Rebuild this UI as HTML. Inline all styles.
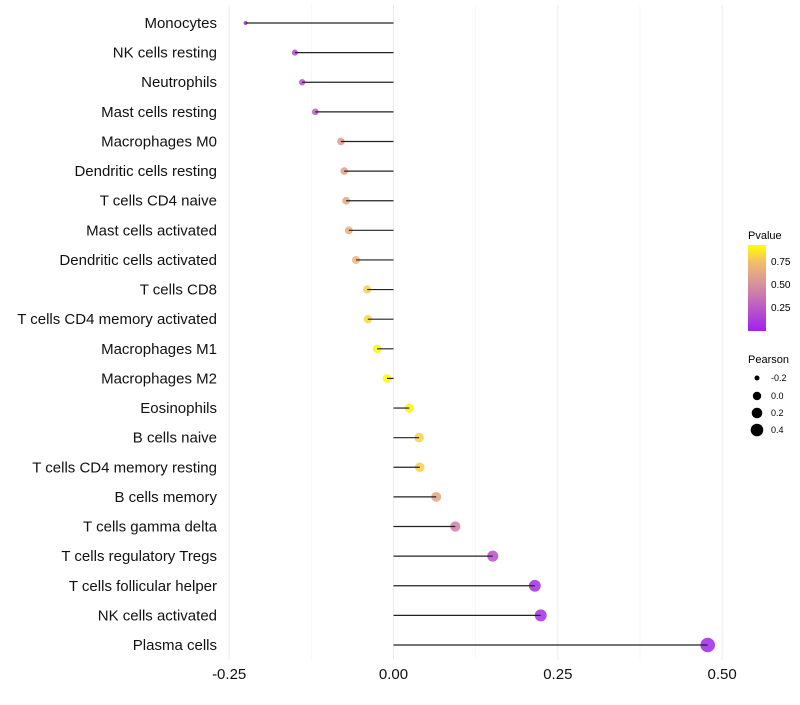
<!DOCTYPE html>
<html><head><meta charset="utf-8"><style>
body{margin:0;background:#fff;font-family:"Liberation Sans",sans-serif}
</style></head><body>
<svg id="chart" width="800" height="700" xmlns="http://www.w3.org/2000/svg">
<defs><linearGradient id="pg" x1="0" y1="1" x2="0" y2="0">
<stop offset="0" stop-color="#a020f0"/><stop offset="0.5" stop-color="#d28aa2"/><stop offset="0.8" stop-color="#f2bd6a"/><stop offset="1" stop-color="#ffff00"/></linearGradient></defs>
<g id="grid"></g><g id="dots"></g><g id="marks"></g><g id="labels"></g>
<g font-size="10">
<text x="748" y="239" font-size="11">Pvalue</text>
<rect x="748" y="245" width="18" height="86" fill="url(#pg)"/>
<text x="771" y="265">0.75</text><text x="771" y="288">0.50</text><text x="771" y="311">0.25</text>
</g>
<g font-size="9">
<text x="748" y="363" font-size="11">Pearson</text>
<circle cx="757" cy="378" r="2.5"/><text x="771" y="381">-0.2</text>
<circle cx="757" cy="396" r="4.2"/><text x="771" y="399">0.0</text>
<circle cx="757" cy="413" r="5.3"/><text x="771" y="416">0.2</text>
<circle cx="757" cy="430" r="6.3"/><text x="771" y="433">0.4</text>
</g>
</svg>
<script>
const cells=["Monocytes","NK cells resting","Neutrophils","Mast cells resting","Macrophages M0","Dendritic cells resting","T cells CD4 naive","Mast cells activated","Dendritic cells activated","T cells CD8","T cells CD4 memory activated","Macrophages M1","Macrophages M2","Eosinophils","B cells naive","T cells CD4 memory resting","B cells memory","T cells gamma delta","T cells regulatory  Tregs","T cells follicular helper","NK cells activated","Plasma cells"];
const pearson=[-0.225,-0.15,-0.139,-0.119,-0.08,-0.075,-0.072,-0.068,-0.057,-0.04,-0.039,-0.025,-0.01,0.024,0.039,0.04,0.065,0.094,0.151,0.215,0.224,0.478];
const pvalue=[0.06,0.18,0.22,0.27,0.55,0.58,0.62,0.66,0.7,0.8,0.82,0.9,0.96,0.9,0.8,0.8,0.62,0.42,0.2,0.05,0.06,0.02];
const xticks=[-0.25,0,0.25,0.5];
const xtickLabels=["-0.25","0.00","0.25","0.50"];
const NS="http://www.w3.org/2000/svg";
const x=v=>393.5+v*657.3;
const y=i=>23+i*(622/21);
const r=v=>Math.sqrt(Math.max(2,20+70*v));
function lerp(a,b,t){return a.map((c,k)=>Math.round(c+(b[k]-c)*t));}
function col(p){const s=[[0,[160,32,240]],[0.5,[210,138,162]],[0.8,[242,189,106]],[1,[255,255,0]]];p=Math.max(0,Math.min(1,p/0.93));
for(let k=1;k<s.length;k++){if(p<=s[k][0]){const t=(p-s[k-1][0])/(s[k][0]-s[k-1][0]);return "rgb("+lerp(s[k-1][1],s[k][1],t).join(",")+")";}}return "rgb(255,255,0)";}
function mk(t,a,p){const e=document.createElementNS(NS,t);for(const k in a)e.setAttribute(k,a[k]);p.appendChild(e);return e;}
const grid=document.getElementById('grid'),dots=document.getElementById('dots'),marks=document.getElementById('marks'),labels=document.getElementById('labels');
[-0.125,0.125,0.375].forEach(v=>{const l=mk('line',{x1:x(v),x2:x(v),y1:5,y2:660,stroke:'#f3f3f3','stroke-width':0.6},grid);

});
xticks.forEach((v,i)=>{const l=mk('line',{x1:x(v),x2:x(v),y1:5,y2:660,stroke:'#ebebeb','stroke-width':1},grid);


const t=mk('text',{x:x(v),y:679,'text-anchor':'middle','font-size':15,fill:'#111'},labels);t.textContent=xtickLabels[i];

});
cells.forEach((c,i)=>{const yy=y(i);
const d=mk('circle',{cx:x(pearson[i]),cy:yy,r:r(pearson[i]),fill:col(pvalue[i]),'fill-opacity':0.85},dots);


const s=mk('line',{x1:x(0),x2:x(pearson[i]),y1:yy,y2:yy,stroke:'#222','stroke-width':1.2},marks);


const t=mk('text',{x:217,y:yy+5,'text-anchor':'end','font-size':15,fill:'#111'},labels);t.textContent=c;

});
</script>
</body></html>
